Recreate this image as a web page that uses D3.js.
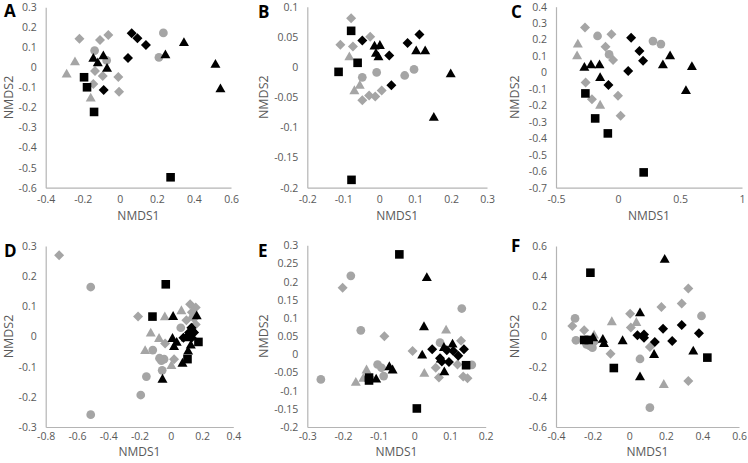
<!DOCTYPE html>
<html><head><meta charset="utf-8">
<script src="https://cdn.jsdelivr.net/npm/d3@7"></script>
<style>body{margin:0;background:#fff}svg{display:block}text{font-family:"Open Sans","Noto Sans",sans-serif}</style>
</head><body><svg id="c" width="748" height="463"></svg>
<script>
// ---- Panel A ----
const A_grayDiamond=[[-0.218,0.143],[-0.107,0.137],[-0.062,0.162],[-0.134,-0.018],[-0.092,-0.043],[-0.143,-0.083],[-0.008,-0.048],[-0.004,-0.121]];
const A_grayCircle=[[-0.136,0.084],[-0.071,0.035],[0.211,0.050],[0.235,0.172]];
const A_grayTriangle=[[-0.287,-0.029],[-0.242,0.032],[-0.157,-0.149]];
const A_blackDiamond=[[0.064,0.171],[0.095,0.146],[0.141,0.112],[0.044,0.047],[-0.087,-0.113]];
const A_blackTriangle=[[-0.143,0.049],[-0.119,0.027],[-0.089,0.062],[-0.069,-0.001],[0.246,0.067],[0.346,0.128],[0.516,0.019],[0.543,-0.103]];
const A_blackSquare=[[-0.193,-0.049],[-0.177,-0.099],[-0.139,-0.222],[0.274,-0.548]];
// ---- Panel B ----
const B_grayDiamond=[[-0.078,0.081],[-0.108,0.037],[-0.073,0.034],[-0.025,0.050],[-0.047,-0.055],[-0.028,-0.047],[-0.011,-0.049],[0.007,-0.039]];
const B_grayCircle=[[-0.047,-0.017],[-0.007,-0.009],[0.071,-0.014],[0.097,-0.004]];
const B_grayTriangle=[[-0.083,0.018],[-0.069,-0.038],[-0.054,-0.029]];
const B_blackDiamond=[[-0.047,0.044],[0.028,0.019],[0.079,0.040],[0.112,0.054],[0.034,-0.030]];
const B_blackTriangle=[[-0.013,0.036],[0.002,0.037],[-0.009,0.024],[-0.002,0.018],[0.103,0.028],[0.128,0.028],[0.199,-0.010],[0.152,-0.082]];
const B_blackSquare=[[-0.078,0.060],[-0.060,0.007],[-0.113,-0.008],[-0.077,-0.187]];
// ---- Panel C ----
const C_grayDiamond=[[-0.266,0.274],[-0.053,0.232],[-0.101,0.157],[-0.040,0.076],[-0.261,-0.060],[-0.210,-0.163],[0.000,-0.141],[0.021,-0.262]];
const C_grayCircle=[[-0.165,0.222],[-0.072,0.110],[0.282,0.191],[0.346,0.173]];
const C_grayTriangle=[[-0.324,0.177],[-0.330,0.106],[-0.144,-0.194]];
const C_blackDiamond=[[0.106,0.212],[0.173,0.131],[0.202,0.072],[0.082,0.009],[-0.077,-0.076]];
const C_blackTriangle=[[-0.271,0.036],[-0.218,0.051],[-0.149,0.051],[-0.144,-0.026],[0.420,0.106],[0.362,0.051],[0.596,0.041],[0.548,-0.105]];
const C_blackSquare=[[-0.263,-0.127],[-0.184,-0.279],[-0.082,-0.370],[0.207,-0.607]];
// ---- Panel D ----
const D_grayDiamond=[[-0.714,0.269],[-0.209,0.066],[0.124,0.107],[0.160,0.096],[0.100,0.054],[0.149,0.060],[0.160,0.040],[-0.036,-0.023],[0.021,-0.075],[0.135,0.080]];
const D_grayCircle=[[-0.512,0.164],[-0.512,-0.259],[-0.192,-0.194],[-0.156,-0.133],[-0.115,-0.045],[-0.072,-0.072],[-0.043,-0.075],[-0.055,-0.112],[0.064,0.029],[-0.060,-0.080]];
const D_grayTriangle=[[-0.128,0.014],[-0.038,0.068],[0.068,0.088],[-0.164,-0.044],[-0.075,-0.004],[0.004,-0.094],[0.135,0.070]];
const D_blackDiamond=[[0.132,0.029],[0.117,0.013],[0.149,0.013],[0.111,0.002],[0.081,-0.004],[0.134,-0.004]];
const D_blackTriangle=[[0.015,0.069],[0.166,0.071],[0.011,-0.004],[0.038,-0.017],[0.021,-0.031],[0.128,-0.026],[0.111,-0.046],[0.075,-0.086],[-0.053,-0.139],[0.139,0.029],[0.096,-0.002]];
const D_blackSquare=[[-0.032,0.173],[-0.117,0.066],[0.177,-0.018],[0.107,-0.075]];
// ---- Panel E ----
const E_grayDiamond=[[-0.201,0.183],[-0.084,0.050],[-0.005,0.009],[0.060,-0.037],[0.069,-0.064],[0.121,-0.028],[0.131,0.037],[0.137,-0.061],[0.149,-0.066]];
const E_grayCircle=[[-0.178,0.216],[-0.262,-0.069],[-0.150,0.066],[-0.103,-0.028],[-0.092,-0.037],[-0.086,-0.060],[0.072,0.032],[0.133,0.126],[0.161,-0.029]];
const E_grayTriangle=[[-0.164,-0.075],[-0.134,-0.041],[0.028,-0.050],[0.089,0.069],[-0.143,-0.064]];
const E_blackDiamond=[[0.050,0.014],[0.091,0.011],[0.109,0.009],[0.123,-0.004],[0.139,0.014],[0.077,-0.020],[0.097,-0.021],[0.072,-0.011]];
const E_blackTriangle=[[0.035,0.213],[0.027,0.078],[0.022,0.000],[-0.107,-0.066],[-0.070,-0.032],[-0.061,-0.041],[0.084,-0.046],[0.083,0.021],[0.107,0.030],[0.074,-0.011]];
const E_blackSquare=[[-0.042,0.275],[-0.127,-0.064],[-0.127,-0.072],[0.007,-0.149],[0.145,-0.030]];
// ---- Panel F ----
const F_grayDiamond=[[-0.311,0.070],[-0.246,0.041],[0.005,0.151],[0.009,0.059],[0.176,0.196],[0.287,0.218],[0.323,0.319],[0.323,-0.295],[-0.102,-0.114],[0.113,-0.070],[-0.189,-0.037]];
const F_grayCircle=[[-0.296,0.120],[-0.291,-0.025],[-0.215,-0.063],[-0.201,-0.074],[-0.233,-0.052],[0.059,-0.149],[0.113,-0.472],[0.395,0.136]];
const F_grayTriangle=[[-0.095,0.103],[0.039,0.098],[0.189,-0.313],[-0.192,0.014]];
const F_blackDiamond=[[0.045,0.008],[0.081,0.014],[0.081,-0.008],[0.140,-0.036],[0.185,0.052],[0.235,-0.030],[0.287,0.076],[0.381,0.021]];
const F_blackTriangle=[[-0.197,-0.003],[-0.144,-0.014],[-0.138,-0.041],[-0.036,-0.023],[0.059,0.162],[0.194,0.516],[0.136,-0.114],[0.059,-0.262],[0.350,-0.092]];
const F_blackSquare=[[-0.212,0.423],[-0.246,-0.023],[-0.221,-0.023],[-0.084,-0.209],[0.427,-0.140]];

// tick labels
const A_xTicks=[-0.4,-0.2,0,0.2,0.4,0.6], A_yTicks=[0.3,0.2,0.1,0,-0.1,-0.2,-0.3,-0.4,-0.5,-0.6];
const B_xTicks=[-0.2,-0.1,0,0.1,0.2,0.3], B_yTicks=[0.1,0.05,0,-0.05,-0.1,-0.15,-0.2];
const C_xTicks=[-0.5,0,0.5,1], C_yTicks=[0.4,0.3,0.2,0.1,0,-0.1,-0.2,-0.3,-0.4,-0.5,-0.6,-0.7];
const D_xTicks=[-0.8,-0.6,-0.4,-0.2,0,0.2,0.4], D_yTicks=[0.3,0.2,0.1,0,-0.1,-0.2,-0.3];
const E_xTicks=[-0.3,-0.2,-0.1,0,0.1,0.2], E_yTicks=[0.3,0.25,0.2,0.15,0.1,0.05,0,-0.05,-0.1,-0.15,-0.2];
const F_xTicks=[-0.4,-0.2,0,0.2,0.4,0.6], F_yTicks=[0.6,0.4,0.2,0,-0.2,-0.4,-0.6];

const GRAY="#a5a5a5", BLACK="#000000";
const panels=[
 {id:"A",box:[45.7,231,7.3,187.7],x:A_xTicks,y:A_yTicks,s:[A_grayDiamond,A_grayCircle,A_grayTriangle,A_blackDiamond,A_blackTriangle,A_blackSquare],lab:[4,17],ytx:9,tt:32,tp:8},
 {id:"B",box:[307.3,487,6.7,187.7],x:B_xTicks,y:B_yTicks,s:[B_grayDiamond,B_grayCircle,B_grayTriangle,B_blackDiamond,B_blackTriangle,B_blackSquare],lab:[258,18],ytx:264,tt:32,tp:8},
 {id:"C",box:[556,742,6.7,187.7],x:C_xTicks,y:C_yTicks,s:[C_grayDiamond,C_grayCircle,C_grayTriangle,C_blackDiamond,C_blackTriangle,C_blackSquare],lab:[511,18],ytx:515,tt:32,tp:8},
 {id:"D",box:[45.7,233.3,246,427],x:D_xTicks,y:D_yTicks,s:[D_grayDiamond,D_grayCircle,D_grayTriangle,D_blackDiamond,D_blackTriangle,D_blackSquare],lab:[4,257],ytx:9,tt:29,tp:6},
 {id:"E",box:[307.3,485.7,245.3,427],x:E_xTicks,y:E_yTicks,s:[E_grayDiamond,E_grayCircle,E_grayTriangle,E_blackDiamond,E_blackTriangle,E_blackSquare],lab:[258,257],ytx:264,tt:29,tp:6},
 {id:"F",box:[556,739,246,427],x:F_xTicks,y:F_yTicks,s:[F_grayDiamond,F_grayCircle,F_grayTriangle,F_blackDiamond,F_blackTriangle,F_blackSquare],lab:[511,252],ytx:515,tt:29,tp:6}
];
const styles=[["diamond",GRAY],["circle",GRAY],["triangle",GRAY],["diamond",BLACK],["triangle",BLACK],["square",BLACK]];
function shape(t){
 if(t==="diamond") return "M0,-5L5,0L0,5L-5,0Z";
 if(t==="square") return "M-4.3,-4.3H4.3V4.3H-4.3Z";
 if(t==="triangle") return "M0,-4.6L5,4.2L-5,4.2Z";
 return d3.symbol(d3.symbolCircle,60)();
}
const fmt=v=>String(+v.toFixed(2));
const svg=d3.select("#c");
panels.forEach(p=>{
 const [x0,x1,y0,y1]=p.box;
 const xs=d3.scaleLinear().domain([d3.min(p.x),d3.max(p.x)]).range([x0,x1]);
 const ys=d3.scaleLinear().domain([d3.min(p.y),d3.max(p.y)]).range([y1,y0]);
 const g=svg.append("g");
 const xa=g.append("g").attr("transform",`translate(0,${y1})`).call(d3.axisBottom(xs).tickValues(p.x).tickFormat(fmt).tickSize(0).tickPadding(p.tp));
 const ya=g.append("g").attr("transform",`translate(${x0},0)`).call(d3.axisLeft(ys).tickValues(p.y).tickFormat(fmt).tickSize(0).tickPadding(9));
 [xa,ya].forEach(a=>{a.select(".domain").attr("stroke","#b4b4b4").attr("stroke-width",1.2);a.selectAll("text").attr("fill","#595959").attr("font-size",10.5);});
 g.append("text").attr("x",(x0+x1)/2).attr("y",y1+p.tt).attr("text-anchor","middle").attr("font-size",12).attr("fill","#595959").text("NMDS1");
 g.append("text").attr("transform",`translate(${p.ytx+4},${(y0+y1)/2}) rotate(-90)`).attr("text-anchor","middle").attr("font-size",12.5).attr("fill","#595959").text("NMDS2");
 g.append("text").attr("x",p.lab[0]).attr("y",p.lab[1]).attr("font-size",17).attr("font-weight","bold").attr("fill","#000").attr("font-family","Liberation Sans, Arial, sans-serif").text(p.id);
 p.s.forEach((arr,i)=>{
  const [t,c]=styles[i];
  g.append("g").selectAll("path").data(arr).join("path")
   .attr("d",shape(t)).attr("fill",c)
   .attr("transform",d=>`translate(${xs(d[0])},${ys(d[1])})`);
 });
});
</script></body></html>
